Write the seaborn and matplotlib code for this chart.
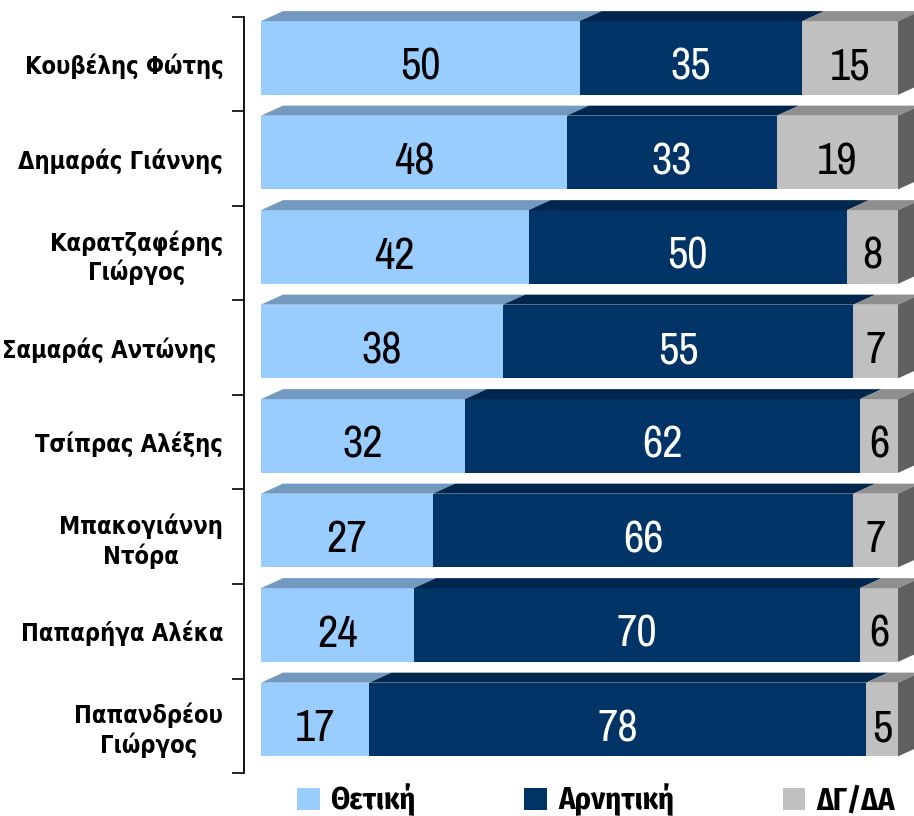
import matplotlib
matplotlib.use("Agg")
import matplotlib.pyplot as plt
from matplotlib.patches import Polygon, Patch
import seaborn as sns

# data
names = [
    "Κουβέλης Φώτης",
    "Δημαράς Γιάννης",
    "Καρατζαφέρης\nΓιώργος",
    "Σαμαράς Αντώνης ",
    "Τσίπρας Αλέξης",
    "Μπακογιάννη\nΝτόρα",
    "Παπαρήγα Αλέκα",
    "Παπανδρέου\nΓιώργος",
]
positive = [50, 48, 42, 38, 32, 27, 24, 17]
negative = [35, 33, 50, 55, 62, 66, 70, 78]
dont_know = [15, 19, 8, 7, 6, 7, 6, 5]
series_names = ["Θετική", "Αρνητική", "ΔΓ/ΔΑ"]

FRONT = ["#99CCFF", "#003366", "#C0C0C0"]
TOP = ["#7399BF", "#00264D", "#8F8F8F"]
SIDE = "#606060"
TEXT = ["black", "white", "black"]

BAR_W = 0.78
SHIFT = -0.066   # bar front sits a little above the category centre
DX, DY = 3.45, 0.106  # 3D depth in data units

NUM_FONT = ["Archivo Narrow", "DejaVu Sans"]
LEG_FONT = ["Fira Sans Condensed", "DejaVu Sans"]

sns.set_style("white")
plt.rcParams["font.family"] = ["DejaVu Sans"]
plt.rcParams["text.color"] = "black"
plt.rcParams["ytick.color"] = "black"

fig = plt.figure(figsize=(9.14, 8.16), dpi=100)
ax = fig.add_axes([244 / 914, 43 / 816, 1 - 244 / 914, 756 / 816])

cum1 = positive
cum2 = [p + n for p, n in zip(positive, negative)]
cum3 = [a + d for a, d in zip(cum2, dont_know)]

for vals, col in zip([cum3, cum2, cum1], FRONT[::-1]):
    sns.barplot(x=vals, y=names, orient="h", color=col, width=BAR_W,
                saturation=1, linewidth=0, ax=ax)

for p in ax.patches:
    p.set_y(p.get_y() + SHIFT)

# 3D top faces, side faces and value labels
for i in range(len(names)):
    top = i + SHIFT - BAR_W / 2
    bot = i + SHIFT + BAR_W / 2
    starts = [0, cum1[i], cum2[i]]
    ends = [cum1[i], cum2[i], cum3[i]]
    vals = [positive[i], negative[i], dont_know[i]]
    for k in range(3):
        x0, x1 = starts[k], ends[k]
        ax.add_patch(Polygon([(x0, top), (x1, top), (x1 + DX, top - DY), (x0 + DX, top - DY)],
                             closed=True, facecolor=TOP[k], edgecolor="none", clip_on=False))
        ax.text((x0 + x1) / 2, i + 0.165, str(vals[k]), ha="center", va="baseline",
                fontsize=32, color=TEXT[k], family=NUM_FONT)
    x1 = cum3[i]
    ax.add_patch(Polygon([(x1, top), (x1 + DX, top - DY), (x1 + DX, bot - DY), (x1, bot)],
                         closed=True, facecolor=SIDE, edgecolor="none", clip_on=False))

ax.set_xlim(-17 / 6.37, 653 / 6.37)
ax.set_ylim(len(names) - 0.5, -0.5)
ax.set_xlabel("")
ax.set_ylabel("")
ax.set_xticks([])
for s in ["top", "right", "bottom"]:
    ax.spines[s].set_visible(False)
ax.spines["left"].set_linewidth(1.3)
ax.spines["left"].set_color("black")

ax.set_yticks(range(len(names)))
ax.set_yticklabels(names, fontsize=17, fontweight="bold", fontstretch="condensed",
                   color="black", ha="right", multialignment="center")
ax.set_yticks([k - 0.5 for k in range(len(names) + 1)], minor=True)
ax.tick_params(axis="y", which="major", length=0, pad=15)
ax.tick_params(axis="y", which="minor", length=8.6, width=1.2, color="black", direction="out", left=True)

handles = [Patch(facecolor=c, edgecolor="none") for c in FRONT]
fig.legend(handles, series_names, loc="center left", bbox_to_anchor=(297 / 914, 16 / 816),
           ncol=3, frameon=False, handlelength=0.75, handleheight=0.75, handletextpad=0.35,
           columnspacing=3.55, borderpad=0, borderaxespad=0,
           prop={"family": LEG_FONT, "weight": "bold", "size": 22})

fig.savefig("out.png", dpi=100)
